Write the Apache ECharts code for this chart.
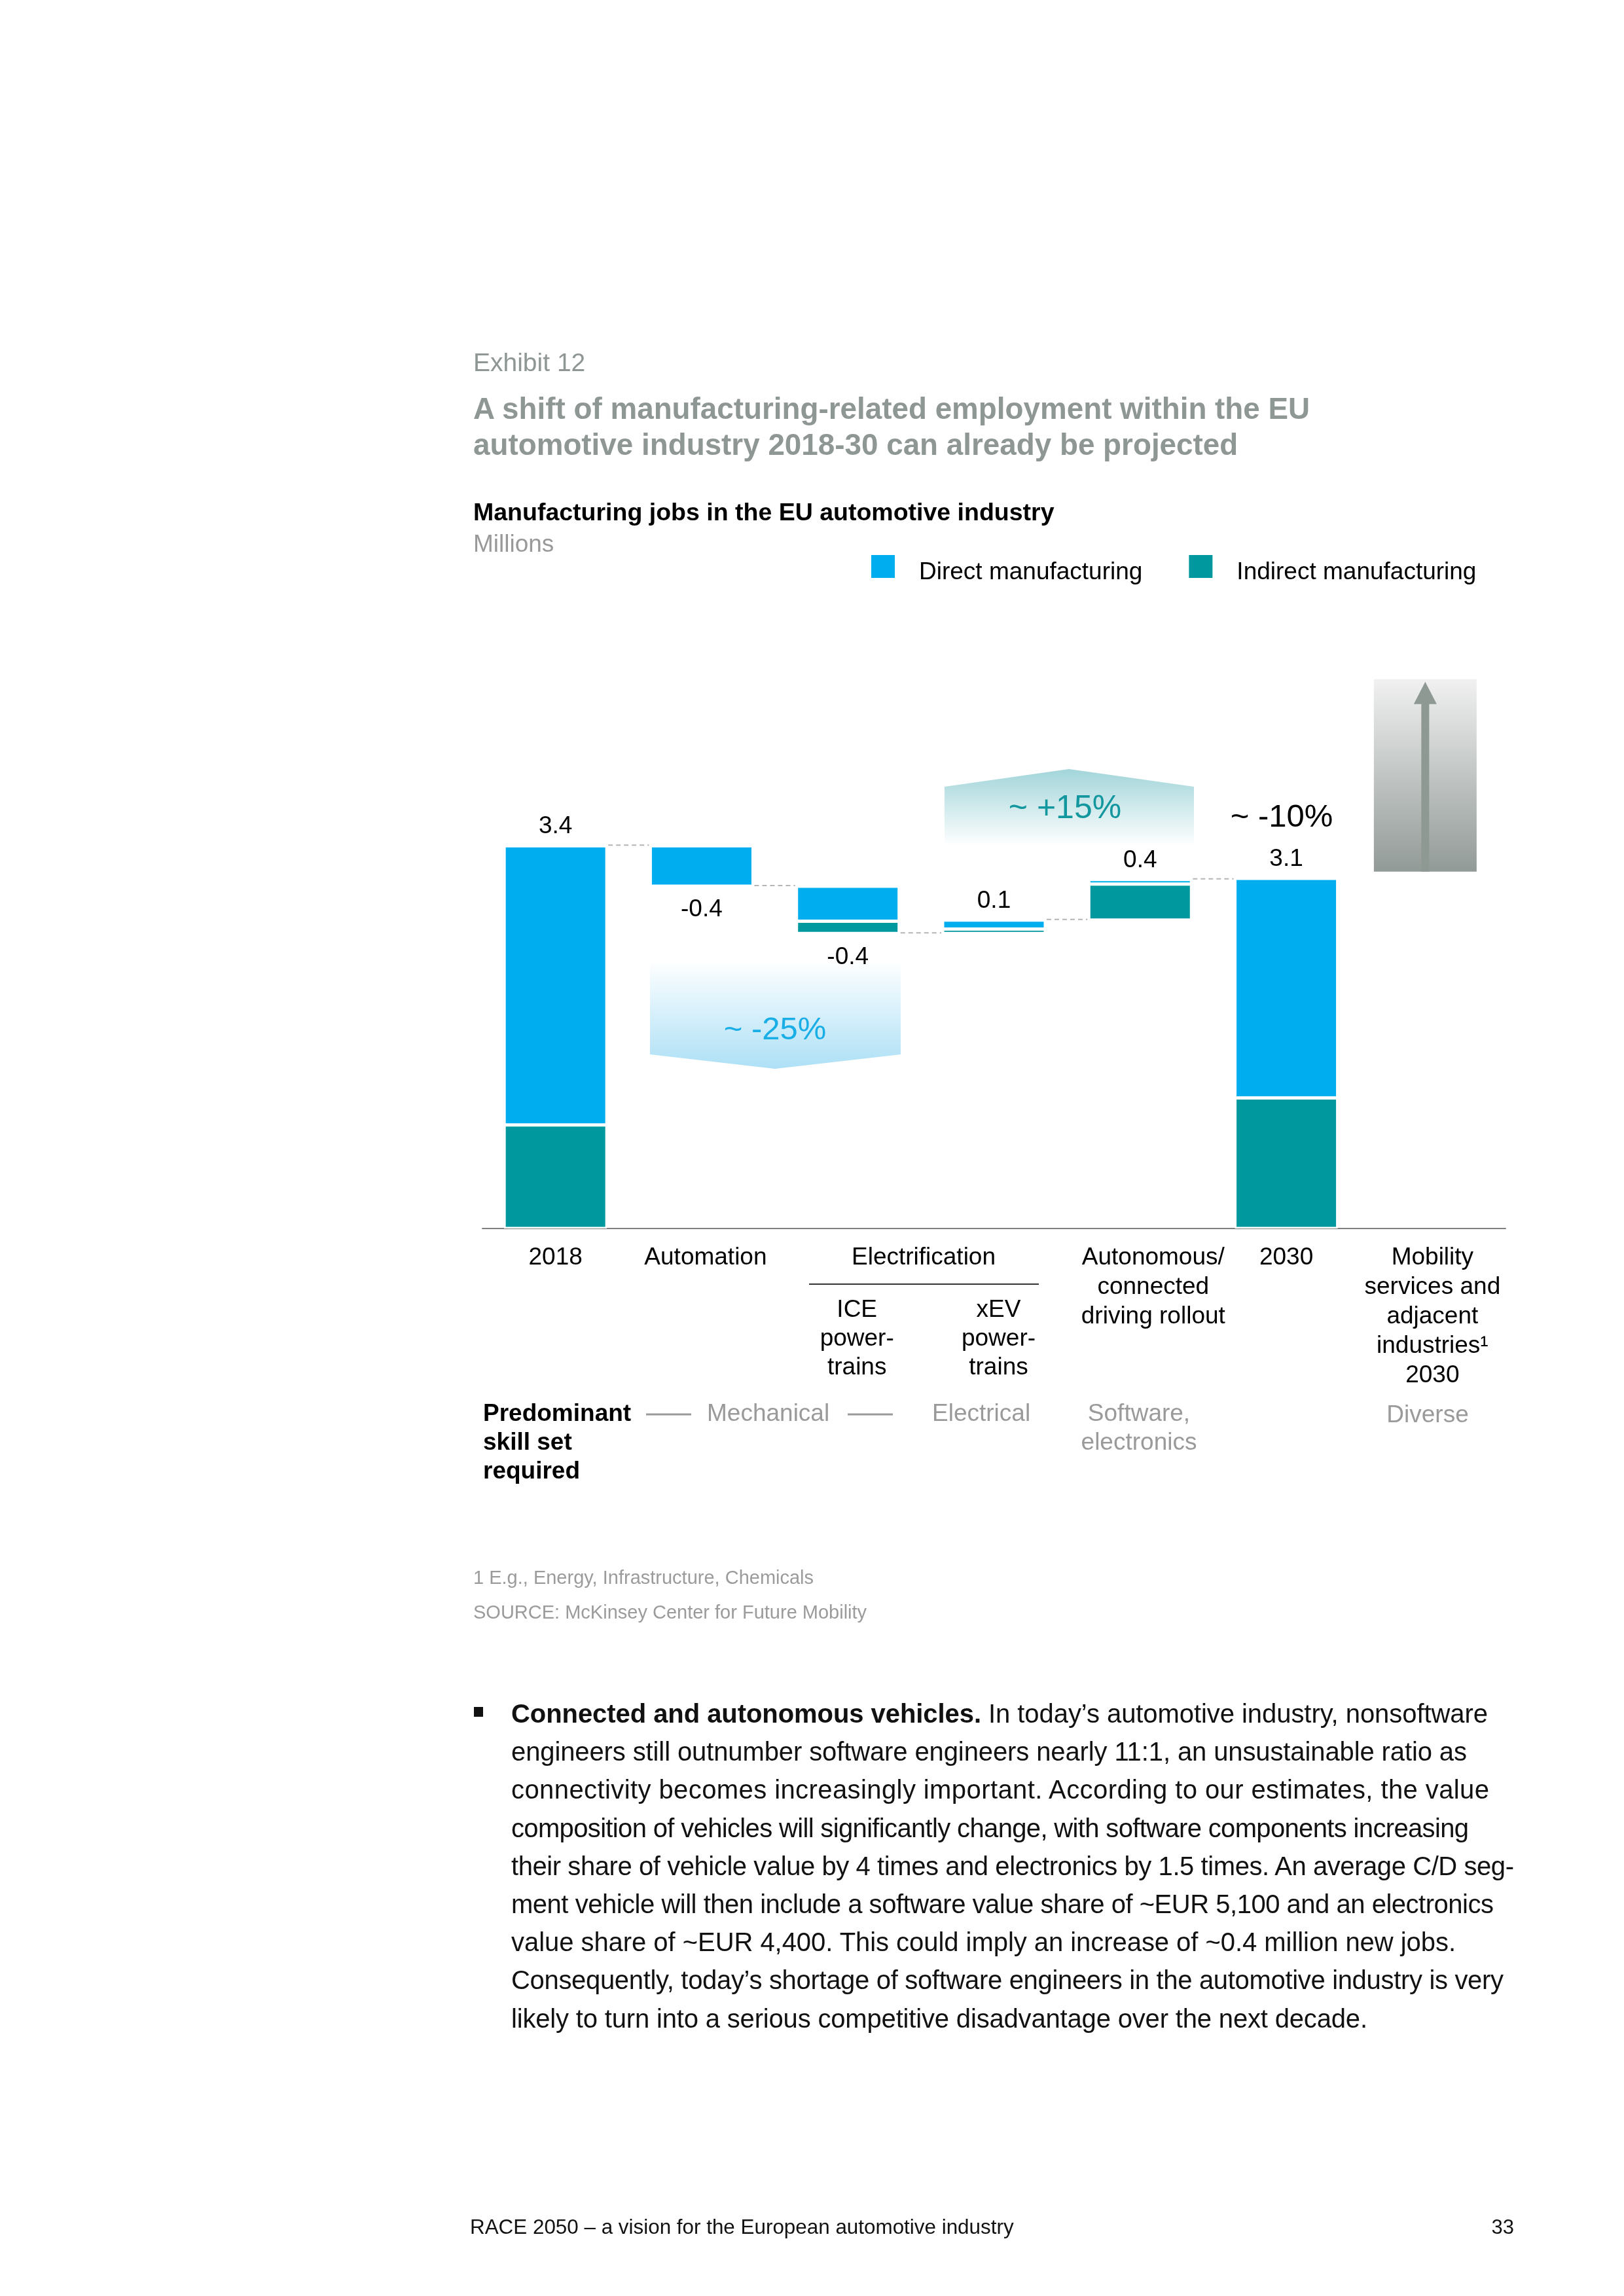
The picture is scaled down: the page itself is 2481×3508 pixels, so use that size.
<!DOCTYPE html>
<html><head><meta charset="utf-8">
<script src="https://cdn.jsdelivr.net/npm/echarts@6/dist/echarts.min.js"></script>
<style>
html,body{margin:0;padding:0;background:#fff;}
#page{position:relative;width:2481px;height:3508px;overflow:hidden;font-family:"Liberation Sans",Arial,sans-serif;}
#chart{position:absolute;left:0;top:0;width:2481px;height:3508px;}
.t{position:absolute;white-space:nowrap;}
#body .ln{display:block;white-space:nowrap;height:58.2px;}
#body .ln span.w{display:inline-block;}
</style></head>
<body><div id="page">
<div id="chart"></div>
<div class="t" style="left:723px;top:534px;font-size:39px;line-height:39px;color:#8f9794;">Exhibit 12</div>
<div class="t" style="left:723px;top:597px;font-size:45.8px;line-height:55px;font-weight:bold;color:#8f9794;">A shift of manufacturing-related employment within the EU<br>automotive industry 2018-30 can already be projected</div>
<div class="t" style="left:723px;top:2396px;font-size:29px;line-height:29px;color:#9b9b9b;">1 E.g., Energy, Infrastructure, Chemicals</div>
<div class="t" style="left:723px;top:2449px;font-size:29px;line-height:29px;color:#9b9b9b;">SOURCE: McKinsey Center for Future Mobility</div>
<div style="position:absolute;left:724px;top:2608px;width:14px;height:15px;background:#111;"></div>
<div id="body" class="t" style="left:781px;top:2589px;font-size:40px;line-height:58.2px;color:#111;">
<div class="ln"><span class="w" data-target="1492"><b>Connected and autonomous vehicles.</b> In today’s automotive industry, nonsoftware</span></div>
<div class="ln"><span class="w" data-target="1460">engineers still outnumber software engineers nearly 11:1, an unsustainable ratio as</span></div>
<div class="ln"><span class="w" data-target="1494">connectivity becomes increasingly important. According to our estimates, the value</span></div>
<div class="ln"><span class="w" data-target="1463">composition of vehicles will significantly change, with software components increasing</span></div>
<div class="ln"><span class="w" data-target="1532">their share of vehicle value by 4 times and electronics by 1.5 times. An average C/D seg-</span></div>
<div class="ln"><span class="w" data-target="1501">ment vehicle will then include a software value share of ~EUR 5,100 and an electronics</span></div>
<div class="ln"><span class="w" data-target="1443">value share of ~EUR 4,400. This could imply an increase of ~0.4 million new jobs.</span></div>
<div class="ln"><span class="w" data-target="1516">Consequently, today’s shortage of software engineers in the automotive industry is very</span></div>
<div class="ln"><span class="w" data-target="1308">likely to turn into a serious competitive disadvantage over the next decade.</span></div>
</div>
<div class="t" style="left:718px;top:3387px;font-size:31.4px;line-height:31px;color:#111;">RACE 2050 – a vision for the European automotive industry</div>
<div class="t" style="right:168px;top:3387px;font-size:31px;line-height:31px;color:#111;">33</div>
</div>
<script>
// ---------- data ----------
const categories = ['2018', 'Automation', 'ICE', 'xEV', 'Autonomous', '2030', 'Mobility'];
const tickLabels = ['2018', 'Automation', 'ICE\npower-\ntrains', 'xEV\npower-\ntrains',
  'Autonomous/\nconnected\ndriving rollout', '2030', 'Mobility\nservices and\nadjacent\nindustries¹\n2030'];
const barKind = ['total', 'delta', 'delta', 'delta', 'delta', 'total'];
const directValues = [2.48, -0.36, -0.31, 0.08, 0.04, 1.95];
const indirectValues = [0.92, 0, -0.11, 0.04, 0.32, 1.16];
const valueLabels = ['3.4', '-0.4', '-0.4', '0.1', '0.4', '3.1'];
const mobilityRange = [3.17, 4.88];
const seriesNames = ['Direct manufacturing', 'Indirect manufacturing'];
const skillLabels = ['Mechanical', 'Electrical', 'Software,\nelectronics', 'Diverse'];

// ---------- body text line fitting ----------
document.querySelectorAll('#body span.w').forEach(s => {
  const target = +s.dataset.target;
  const w = s.getBoundingClientRect().width;
  const n = s.textContent.length;
  if (n > 1) s.style.letterSpacing = ((target - w) / (n - 1)).toFixed(3) + 'px';
});

// ---------- derived (waterfall stacking) ----------
const FONT = '"Liberation Sans", Arial, sans-serif';
const BLUE = '#00adef', TEAL = '#00989f';
const baseVals = [], tealVals = [], blueVals = [], labelData = [], connData = [];
let running = 0;
barKind.forEach((k, i) => {
  const d = directValues[i], ind = indirectValues[i];
  let top, bottom;
  if (k === 'total') {
    baseVals.push(0); tealVals.push(ind || '-'); blueVals.push(d || '-');
    running = d + ind; top = running; bottom = 0;
    labelData.push([i, top, 1]);
  } else {
    const delta = d + ind;
    const after = running + delta;
    bottom = Math.min(running, after); top = Math.max(running, after);
    baseVals.push(bottom);
    tealVals.push(Math.abs(ind) || '-');
    blueVals.push(Math.abs(d) || '-');
    labelData.push(delta >= 0 ? [i, top, 1] : [i, bottom, -1]);
    running = after;
  }
  if (i < barKind.length - 1) connData.push([i, running]);
});
baseVals.push('-'); tealVals.push('-'); blueVals.push('-');

const BAR_W = 157;
const shiftStyle = {1: 'aut', 2: 'ice', 3: 'xev', 4: 'acd'};
const tickRich = (idx) => {
  const lines = tickLabels[idx].split('\n');
  const st = shiftStyle[idx] || 't';
  const body = lines.map(l => '{' + st + '|' + l + '}').join('\n');
  return (idx === 2 || idx === 3) ? '{gap| }\n' + body : body;
};
const lbl = (extra) => Object.assign({fontSize: 37, lineHeight: 45, color: '#000', fontFamily: FONT}, extra || {});

const chart = echarts.init(document.getElementById('chart'), null, {renderer: 'canvas'});
const option = {
  animation: false,
  backgroundColor: 'transparent',
  textStyle: {fontFamily: FONT},
  title: {
    text: 'Manufacturing jobs in the EU automotive industry', subtext: 'Millions',
    left: 723, top: 766, padding: 0, itemGap: 10,
    textStyle: {fontSize: 37.5, fontWeight: 'bold', color: '#000', lineHeight: 37, fontFamily: FONT},
    subtextStyle: {fontSize: 37, color: '#999999', lineHeight: 37, fontFamily: FONT}
  },
  legend: {
    data: seriesNames, left: 1329, top: 846, padding: 0, itemWidth: 38, itemHeight: 55, itemGap: 69,
    icon: 'path://M0,0L38,0L38,37L0,37Z M0,54.95L0.05,54.95L0.05,55L0,55Z', selectedMode: false,
    textStyle: {fontSize: 37, color: '#000', fontFamily: FONT, padding: [0, 0, 0, 31]}
  },
  grid: {left: 737, top: 1017, width: 1563, height: 860},
  xAxis: {
    type: 'category', data: categories,
    axisLine: {lineStyle: {color: '#7f7f7f', width: 2}},
    axisTick: {show: false},
    axisLabel: {
      interval: 0, margin: 22, formatter: (v, idx) => tickRich(idx),
      rich: {
        t: lbl(),
        gap: {fontSize: 10, lineHeight: 81},
        aut: lbl({padding: [0, 0, 0, 12]}),
        ice: lbl({lineHeight: 44, padding: [0, 0, 0, 28]}),
        xev: lbl({lineHeight: 44, padding: [0, 0, 0, 14]}),
        acd: lbl({padding: [0, 0, 0, 40]})
      }
    }
  },
  yAxis: {type: 'value', min: 0, max: 5, show: false, splitLine: {show: false}},
  series: [
    {name: 'base', type: 'bar', stack: 'wf', barWidth: BAR_W, silent: true,
     itemStyle: {color: 'rgba(0,0,0,0)'}, data: baseVals},
    {name: seriesNames[1], type: 'bar', stack: 'wf', barWidth: BAR_W,
     itemStyle: {color: TEAL, borderColor: '#fff', borderWidth: 2.5}, data: tealVals},
    {name: seriesNames[0], type: 'bar', stack: 'wf', barWidth: BAR_W,
     itemStyle: {color: BLUE, borderColor: '#fff', borderWidth: 2.5}, data: blueVals},
    {name: 'connectors', type: 'custom', silent: true, encode: {x: 0, y: 1}, data: connData,
     renderItem: (params, api) => {
       const i = api.value(0), lvl = api.value(1);
       const p1 = api.coord([i, lvl]), p2 = api.coord([i + 1, lvl]);
       return {type: 'line', shape: {x1: p1[0] + BAR_W / 2 + 2, y1: p1[1] - 1, x2: p2[0] - BAR_W / 2 - 2, y2: p1[1] - 1},
               style: {stroke: '#b5b5b5', lineWidth: 2, lineDash: [7, 5]}};
     }},
    {name: 'valueLabels', type: 'custom', silent: true, encode: {x: 0, y: 1}, data: labelData,
     renderItem: (params, api) => {
       const i = api.value(0), v = api.value(1), dir = api.value(2);
       const p = api.coord([i, v]);
       return {type: 'text', x: p[0], y: p[1] + (dir > 0 ? -29 : 36),
               style: {text: valueLabels[i], fontSize: 37, fontFamily: FONT, fill: '#000',
                       align: 'center', verticalAlign: 'middle', textAlign: 'center', textVerticalAlign: 'middle'}};
     }},
    {name: 'mobility', type: 'custom', silent: true, encode: {x: 0, y: [1, 2]},
     data: [[6, mobilityRange[0], mobilityRange[1]]],
     renderItem: (params, api) => {
       const lo = api.coord([api.value(0), api.value(1)]), hi = api.coord([api.value(0), api.value(2)]);
       const cx = hi[0] - 11, top = hi[1], bot = lo[1];
       return {type: 'group', children: [
         {type: 'rect', shape: {x: cx - BAR_W / 2, y: top, width: BAR_W, height: bot - top},
          style: {fill: new echarts.graphic.LinearGradient(0, 0, 0, 1, [
            {offset: 0, color: '#f0f1f0'}, {offset: 1, color: '#929a97'}])}},
         {type: 'rect', shape: {x: cx - 6, y: top + 36, width: 12, height: bot - top - 36},
          style: {fill: '#8e9994'}},
         {type: 'polygon', shape: {points: [[cx, top + 4], [cx - 17.5, top + 38], [cx + 17.5, top + 38]]},
          style: {fill: '#8e9994'}}
       ]};
     }}
  ],
  graphic: [
    // callout -25%
    {type: 'polygon', silent: true, shape: {points: [[993, 1467], [1376, 1467], [1376, 1611], [1184, 1633], [993, 1611]]},
     style: {fill: {type: 'linear', x: 0, y: 0, x2: 0, y2: 1, colorStops: [
       {offset: 0, color: 'rgba(255,255,255,1)'}, {offset: 1, color: '#ade0f6'}]}}},
    {type: 'text', x: 1184, y: 1574, style: {text: '~ -25%', fontSize: 49, fontFamily: FONT, fill: '#1aaee7',
      align: 'center', verticalAlign: 'middle', textAlign: 'center', textVerticalAlign: 'middle'}},
    // callout +15%
    {type: 'polygon', silent: true, shape: {points: [[1443, 1202], [1633, 1175], [1824, 1202], [1824, 1292], [1443, 1292]]},
     style: {fill: {type: 'linear', x: 0, y: 0, x2: 0, y2: 1, colorStops: [
       {offset: 0, color: '#a2d5da'}, {offset: 1, color: 'rgba(255,255,255,1)'}]}}},
    {type: 'text', x: 1627, y: 1236, style: {text: '~ +15%', fontSize: 50, fontFamily: FONT, fill: '#13979f',
      align: 'center', verticalAlign: 'middle', textAlign: 'center', textVerticalAlign: 'middle'}},
    // overall change
    {type: 'text', x: 1958, y: 1249, style: {text: '~ -10%', fontSize: 49, fontFamily: FONT, fill: '#000',
      align: 'center', verticalAlign: 'middle', textAlign: 'center', textVerticalAlign: 'middle'}},
    // Electrification group label
    {type: 'text', x: 1411, y: 1922, style: {text: 'Electrification', fontSize: 37, fontFamily: FONT, fill: '#000',
      align: 'center', verticalAlign: 'middle', textAlign: 'center', textVerticalAlign: 'middle'}},
    {type: 'line', shape: {x1: 1236, y1: 1962, x2: 1587, y2: 1962}, style: {stroke: '#333', lineWidth: 2}},
    // skill set row
    {type: 'text', x: 738, y: 2139, style: {text: 'Predominant\nskill set\nrequired', fontSize: 37, fontWeight: 'bold',
      lineHeight: 44, fontFamily: FONT, fill: '#000', align: 'left', verticalAlign: 'top', textAlign: 'left', textVerticalAlign: 'top'}},
    {type: 'line', shape: {x1: 987, y1: 2161, x2: 1056, y2: 2161}, style: {stroke: '#9a9a9a', lineWidth: 3}},
    {type: 'text', x: 1080, y: 2161, style: {text: skillLabels[0], fontSize: 37, fontFamily: FONT, fill: '#9a9a9a',
      align: 'left', verticalAlign: 'middle', textAlign: 'left', textVerticalAlign: 'middle'}},
    {type: 'line', shape: {x1: 1295, y1: 2161, x2: 1364, y2: 2161}, style: {stroke: '#9a9a9a', lineWidth: 3}},
    {type: 'text', x: 1424, y: 2161, style: {text: skillLabels[1], fontSize: 37, fontFamily: FONT, fill: '#9a9a9a',
      align: 'left', verticalAlign: 'middle', textAlign: 'left', textVerticalAlign: 'middle'}},
    {type: 'text', x: 1740, y: 2139, style: {text: skillLabels[2], fontSize: 37, lineHeight: 44, fontFamily: FONT, fill: '#9a9a9a',
      align: 'center', verticalAlign: 'top', textAlign: 'center', textVerticalAlign: 'top'}},
    {type: 'text', x: 2181, y: 2163, style: {text: skillLabels[3], fontSize: 37, fontFamily: FONT, fill: '#9a9a9a',
      align: 'center', verticalAlign: 'middle', textAlign: 'center', textVerticalAlign: 'middle'}}
  ]
};
chart.setOption(option);
</script>
</body></html>
